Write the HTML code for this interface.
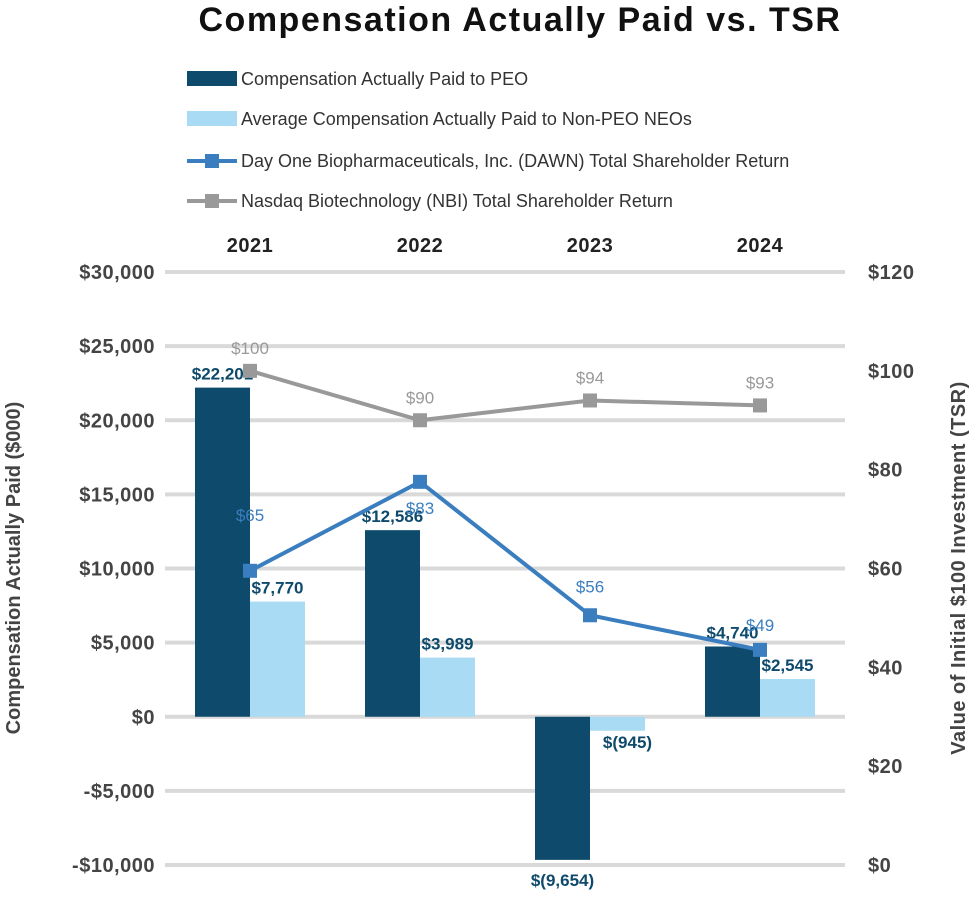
<!DOCTYPE html>
<html><head><meta charset="utf-8"><style>
body{margin:0;background:#fff;}
svg text{font-family:"Liberation Sans",sans-serif;}
</style></head><body>
<svg id="chart" width="976" height="896" xmlns="http://www.w3.org/2000/svg">
<text x="520" y="31" text-anchor="middle" font-size="34" font-weight="900" fill="#111" letter-spacing="1.5">Compensation Actually Paid vs. TSR</text>
<g font-size="18" fill="#333">
 <g><rect x="187" y="71" width="50" height="15" fill="#0e4a6b"/><text x="241" y="85" fill="#333">Compensation Actually Paid to PEO</text></g>
 <g><rect x="187" y="111" width="50" height="15" fill="#a9dbf5"/><text x="241" y="125" fill="#333">Average Compensation Actually Paid to Non-PEO NEOs</text></g>
 <g><line x1="187" y1="161" x2="237" y2="161" stroke="#3a7ebf" stroke-width="4"/><rect x="205" y="154" width="14" height="14" fill="#3a7ebf"/><text x="241" y="167" fill="#333">Day One Biopharmaceuticals, Inc. (DAWN) Total Shareholder Return</text></g>
 <g><line x1="187" y1="201" x2="237" y2="201" stroke="#999" stroke-width="4"/><rect x="205" y="194" width="14" height="14" fill="#999"/><text x="241" y="207" fill="#333">Nasdaq Biotechnology (NBI) Total Shareholder Return</text></g>
</g>
<g id="grid"></g><g id="axes"></g><g id="bars"></g><g id="lines"></g>
<text transform="translate(20,568) rotate(-90)" text-anchor="middle" font-size="20" font-weight="bold" fill="#444">Compensation Actually Paid ($000)</text>
<text transform="translate(965,568) rotate(-90)" text-anchor="middle" font-size="20" font-weight="bold" fill="#444" letter-spacing="0.5">Value of Initial $100 Investment (TSR)</text>
</svg>
<script>
const years=["2021","2022","2023","2024"];
const peo=[22201,12586,-9654,4740];
const neo=[7770,3989,-945,2545];
const dawn=[65,83,56,49];
const nbi=[100,90,94,93];
const leftTicks=[30000,25000,20000,15000,10000,5000,0,-5000,-10000];
const rightTicks=[120,100,80,60,40,20,0];
const NS="http://www.w3.org/2000/svg";
const x0=165,catW=170,yTop=272,yBot=865;
const yL=v=>yTop+(30000-v)/40000*(yBot-yTop);
const yR=v=>yBot-v/120*(yBot-yTop);
const yD=v=>yR(v)+27;
const xc=i=>x0+catW*(i+0.5);
function mk(p,t,a,txt){const e=document.createElementNS(NS,t);for(const k in a)e.setAttribute(k,a[k]);if(txt!==undefined)e.textContent=txt;document.getElementById(p).appendChild(e);return e;}
const fmt=v=>v<0?"$("+Math.abs(v).toLocaleString("en-US")+")":"$"+v.toLocaleString("en-US");
const fmtT=v=>(v<0?"-$":"$")+Math.abs(v).toLocaleString("en-US");
leftTicks.forEach(v=>{
 let g=mk("grid","line",{x1:x0,x2:x0+catW*4,y1:yL(v),y2:yL(v),stroke:"#d9d9d9","stroke-width":4});
 
 
 let t=mk("axes","text",{x:155,y:yL(v)+7,"text-anchor":"end","font-size":20,"font-weight":"bold",fill:"#444","letter-spacing":"0.5"},fmtT(v));
 
 
});
rightTicks.forEach(v=>{
 let t=mk("axes","text",{x:868,y:yR(v)+7,"font-size":20,"font-weight":"bold",fill:"#444","letter-spacing":"0.5"},"$"+v);
 
 
});
years.forEach((y,i)=>{
 let t=mk("axes","text",{x:xc(i),y:252,"text-anchor":"middle","font-size":20,"font-weight":"bold",fill:"#222","letter-spacing":"0.5"},y);
 
 
});
const bw=55;
years.forEach((y,i)=>{
 const c=xc(i),z=yL(0);
 [[peo,c-bw,"#0e4a6b","bar-peo"],[neo,c,"#a9dbf5","bar-neo"]].forEach(([arr,x,col,nm],k)=>{
  const v=arr[i],yy=yL(v);
  let r=mk("bars","rect",{x:x,y:Math.min(yy,z),width:bw,height:Math.abs(yy-z),fill:col});
  
  
  let ly,lx=x+bw/2;
  if(v>=0)ly=yy-8;else ly=(k==0?yy+26:yy+17);
  if(k==1&&v<0)lx=x+bw/2+10;
  let t=mk("bars","text",{x:lx,y:ly,"text-anchor":"middle","font-size":17,"font-weight":"bold",fill:"#0e4a6b"},fmt(v));
  
  
 });
});
const dawnLabelOffset=[-50,32,-23,-19];
[[nbi,"#999","nbi",yR],[dawn,"#3a7ebf","dawn",yD]].forEach(([arr,col,nm,sc])=>{
 const pts=arr.map((v,i)=>xc(i)+","+sc(v)).join(" ");
 let pl=mk("lines","polyline",{points:pts,fill:"none",stroke:col,"stroke-width":4});
 
 
 arr.forEach((v,i)=>{
  let m=mk("lines","rect",{x:xc(i)-7,y:sc(v)-7,width:14,height:14,fill:col});
  
  
  let dy=nm=="dawn"?dawnLabelOffset[i]:-17;
  let t=mk("lines","text",{x:xc(i),y:sc(v)+dy,"text-anchor":"middle","font-size":17,fill:col},"$"+v);
  
  
 });
});
</script>
</body></html>
